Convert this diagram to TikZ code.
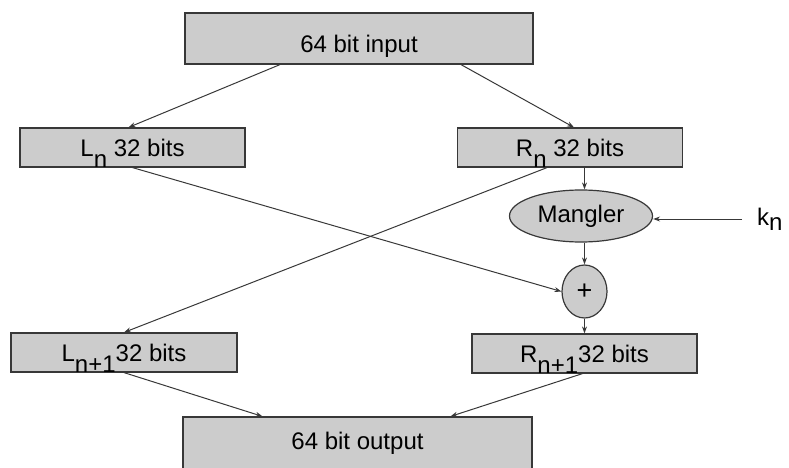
\documentclass[tikz,border=0pt]{standalone}
\usepackage{fontspec}
\setmainfont{Liberation Sans}
\usetikzlibrary{positioning,calc,arrows.meta,shapes.geometric}

\definecolor{boxfill}{gray}{0.80}
\definecolor{boxline}{gray}{0.22}

% lowered subscript as printed in the figure
\newcommand{\lowsub}[1]{\raisebox{-11pt}[0pt][0pt]{#1}}

\tikzset{
	block/.style={draw=boxline, fill=boxfill, line width=1.2pt, inner sep=0pt},
	oval/.style={ellipse, draw=boxline, fill=boxfill, line width=1.2pt, inner sep=0pt},
	link/.style={draw=boxline, line width=1pt, -{Stealth[length=7pt,width=5pt]}}
}

\begin{document}
\begin{tikzpicture}[x=1pt, y=-1pt, font=\fontsize{24}{28}\selectfont]
		\useasboundingbox (0,0) rectangle (789,468);

		% boxes
		\node[block, minimum width=348pt, minimum height=51pt, text height=32pt, text depth=4pt] (input) at (359,38.5) {64 bit input};
		\node[block, minimum width=225pt, minimum height=39pt] (Ln) at (132.5,147.5) {L\lowsub{n} 32 bits};
		\node[block, minimum width=225pt, minimum height=39pt] (Rn) at (570,147.5) {R\lowsub{n} 32 bits};
		\node[block, minimum width=226pt, minimum height=39pt] (Ln1) at (124,352.5) {L\lowsub{n+1}32 bits};
		\node[block, minimum width=225pt, minimum height=39pt] (Rn1) at (584.5,353.5) {R\lowsub{n+1}32 bits};
		\node[block, minimum width=349pt, minimum height=52pt] (output) at (357.5,443) {64 bit output};

		% round nodes
		\node[oval, minimum width=45pt, minimum height=53pt, font=\fontsize{27}{30}\selectfont] (plus) at (584.5,291.5) {+};
		\node[oval, minimum width=143pt, minimum height=52pt] (mangler) at (581,216) {Mangler};
		\node[inner sep=0pt, anchor=west] (kn) at (757,219) {k\raisebox{-5pt}{n}};
		\coordinate (knin) at (742,219);

		% connectors
		\draw[link] ([xshift=-79pt]input.south) -- ([xshift=-4pt]Ln.north);
		\draw[link] ([xshift=102pt]input.south) -- ([xshift=4pt]Rn.north);
		\draw[link] (Ln.south) -- (plus.west);
		\draw[link] ([xshift=-23pt]Rn.south) -- (Ln1.north);
		\draw[link] (Rn.south -| plus.north) -- (mangler.north -| plus.north);
		\draw[link] (knin) -- (mangler.east |- knin);
		\draw[link] (mangler.south -| plus.north) -- (plus.north);
		\draw[link] (plus.south) -- (Rn1.north -| plus.south);
		\draw[link] (Ln1.south) -- ([xshift=-95pt]output.north);
		\draw[link] ([xshift=-2pt]Rn1.south) -- ([xshift=93pt]output.north);
	\end{tikzpicture}
\end{document}
